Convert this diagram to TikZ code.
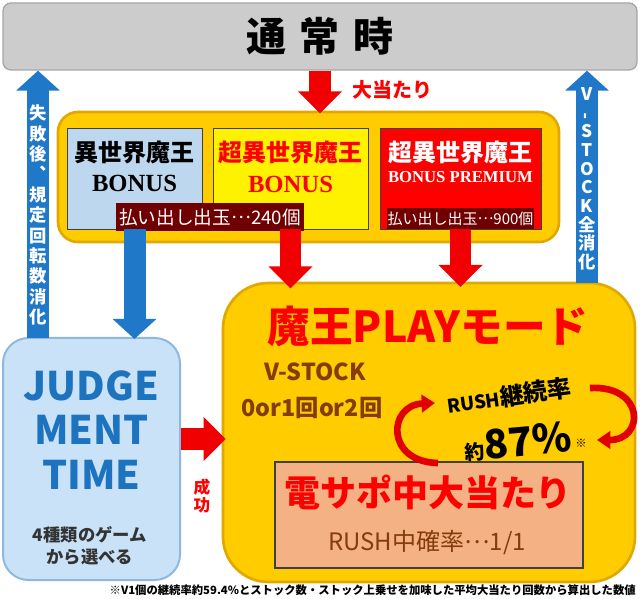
\documentclass[tikz,border=0pt]{standalone}
\usepackage{fontspec, graphicx}
\setmainfont{Liberation Serif}
\newfontfamily\jp{Noto Sans CJK JP}
\usetikzlibrary{arrows.meta,positioning}
\definecolor{barGray}{HTML}{CCCCCC}
\definecolor{barEdge}{HTML}{A6A6A6}
\definecolor{frameGold}{HTML}{FFCC00}
\definecolor{frameEdge}{HTML}{E0A800}
\definecolor{boxEdge}{HTML}{404040}
\definecolor{boxBlue}{HTML}{BDD7EE}
\definecolor{payRed}{HTML}{700000}
\definecolor{titleRed}{HTML}{FF0000}
\definecolor{arrowRed}{HTML}{F00000}
\definecolor{loopRed}{HTML}{E00000}
\definecolor{arrowBlue}{HTML}{1F78C8}
\definecolor{judgeBlue}{HTML}{C9E2F8}
\definecolor{judgeEdge}{HTML}{8FB8DE}
\definecolor{judgeText}{HTML}{1E73BE}
\definecolor{rushSalmon}{HTML}{F4B183}
\definecolor{rushBrown}{HTML}{843C0C}
\newcommand{\midots}{\raisebox{0.3em}{…}}
\newcommand{\tightlines}{\lineskiplimit=-20pt\relax\lineskip=0pt\relax}
\tikzstyle{topbar}     = [draw=barEdge, fill=barGray, line width=1pt, rounded corners=6pt, minimum width=475.5pt, minimum height=50.25pt, font=\jp\bfseries\fontsize{30}{30}\selectfont]
\tikzstyle{bonusframe} = [draw=frameEdge, fill=frameGold, line width=2pt, rounded corners=15pt, minimum width=375.75pt, minimum height=97.5pt]
\tikzstyle{bonusbox}   = [draw=boxEdge, line width=0.6pt, minimum height=75.75pt, inner sep=0pt, outer sep=0pt]
\tikzstyle{bonustitle} = [inner sep=0pt, font=\jp\bfseries\fontsize{18}{18}\selectfont]
\tikzstyle{bonusword}  = [inner sep=0pt, font=\bfseries\fontsize{18.5}{18.5}\selectfont]
\tikzstyle{payout}     = [fill=payRed, text=white, inner sep=0pt]
\tikzstyle{playframe}  = [draw=frameEdge, fill=frameGold, line width=2pt, rounded corners=34pt, minimum width=309pt, minimum height=224.25pt]
\tikzstyle{playtitle}  = [text=titleRed, font=\jp\bfseries\fontsize{32}{32}\selectfont]
\tikzstyle{stocktext}  = [text=rushBrown, font=\jp\bfseries\fontsize{17.5}{17.5}\selectfont]
\tikzstyle{ratetext}   = [inner sep=1pt, font=\jp\bfseries\fontsize{18}{18}\selectfont]
\tikzstyle{rushbox}    = [draw=boxEdge, fill=rushSalmon, line width=1pt, minimum width=231pt, minimum height=79.5pt]
\tikzstyle{rushtitle}  = [text=titleRed, font=\jp\bfseries\fontsize{27}{27}\selectfont]
\tikzstyle{rushtext}   = [text=rushBrown, font=\jp\fontsize{18}{18}\selectfont]
\tikzstyle{judgebox}   = [draw=judgeEdge, fill=judgeBlue, line width=1.5pt, rounded corners=19pt, minimum width=132.75pt, minimum height=181.5pt]
\tikzstyle{judgetext}  = [text=judgeText, align=center, font=\jp\bfseries\fontsize{29.5}{33.4}\selectfont]
\tikzstyle{gametext}   = [text=black!80, align=center, font=\jp\bfseries\fontsize{13}{16.5}\selectfont]
\tikzstyle{downtext}   = [text=white, align=center, inner sep=0pt, font=\jp\bfseries\fontsize{13}{15.3}\selectfont\tightlines]
\tikzstyle{hittext}    = [text=titleRed, font=\jp\bfseries\fontsize{15}{15}\selectfont]
\tikzstyle{oktext}     = [text=titleRed, align=center, font=\jp\bfseries\fontsize{12.5}{13.5}\selectfont]
\tikzstyle{footnote}   = [inner sep=0pt, font=\jp\bfseries\fontsize{8.5}{8.5}\selectfont]
\tikzstyle{redarrow}   = [draw=arrowRed, line width=16pt, -{Triangle[width=32pt,length=16.5pt]}]
\tikzstyle{bluearrow}  = [draw=arrowBlue, line width=16.5pt, -{Triangle[width=32pt,length=15pt]}]
\tikzstyle{turnarrow}  = [draw=loopRed, line width=5pt, -{Triangle[width=13pt,length=10pt]}]

\begin{document}
\begin{tikzpicture}[x=0.75pt, y=-0.75pt]
	\useasboundingbox (0,0) rectangle (640,599);
	% Node Setting %
	\node [topbar] (normal) at (320,36.5) {通\hspace{10pt}常\hspace{10pt}時};
	\node [hittext] (hit) at (392,90) {大当たり};
	\node [bonusframe] (bonus) at (308.5,177) {};
	\node [bonusbox, fill=boxBlue, minimum width=101.25pt] (bonusA) at (134.5,178.5) {};
	\node [bonusbox, fill=yellow, minimum width=116.25pt, right=8.25pt of bonusA] (bonusB) {};
	\node [bonusbox, fill=red, minimum width=120.75pt, right=9pt of bonusB] (bonusC) {};
	\node [bonustitle] (titleA) at (134.5,152) {異世界魔王};
	\node [bonusword] (wordA) at (134.5,183) {BONUS};
	\node [bonustitle, text=titleRed] (titleB) at (290.5,152) {超異世界魔王};
	\node [bonusword, text=titleRed] (wordB) at (290.5,184) {BONUS};
	\node [bonustitle, text=white] (titleC) at (460.5,152) {超異世界魔王};
	\node [bonusword, text=white, font=\bfseries\fontsize{12.5}{12.5}\selectfont] (wordC) at (460.5,177) {BONUS PREMIUM};
	\node [payout, minimum width=141pt, minimum height=21pt, font=\jp\fontsize{14}{14}\selectfont] (payA) at (210,217) {払い出し出玉\midots 240個};
	\node [payout, minimum width=110pt, minimum height=16pt, font=\jp\fontsize{11.25}{11.25}\selectfont] (payC) at (460.5,218.5) {払い出し出玉\midots 900個};
	\node [playframe] (play) at (429,432.5) {};
	\node [playtitle] (playname) at (428,326) {魔王PLAYモード};
	\node [stocktext] (stock) at (315,372) {V-STOCK};
	\node [stocktext] (stocknum) at (312,408) {0or1回or2回};
	\node [ratetext, rotate=8] (ratename) at (509,396) {{\fontsize{14}{14}\selectfont RUSH}継続率};
	\node [ratetext, rotate=5, font=\jp\bfseries\fontsize{30}{30}\selectfont] (rate) at (518,442) {{\fontsize{15}{15}\selectfont 約}87\%};
	\node [footnote] (ratemark) at (581,443) {※};
	\node [rushbox] (rush) at (429,515) {};
	\node [rushtitle] (rushname) at (428,492) {電サポ中大当たり};
	\node [rushtext] (rushrate) at (427,543) {RUSH中確率\midots 1/1};
	\node [judgebox] (judge) at (91.5,459) {};
	\node [judgetext] (judgename) at (91.5,430) {JUDGE\\MENT\\TIME};
	\node [gametext] (games) at (90,546) {4種類のゲーム\\から選べる};
	\node [oktext] (ok) at (202,496) {成\\功};
	\node [footnote, anchor=east] (memo) at (636,590) {※V1個の継続率約59.4\%とストック数・ストック上乗せを加味した平均大当たり回数から算出した数値};
	\coordinate (failfoot) at (38,338);
	\coordinate (stockfoot) at (587,283);
	\coordinate (loopAstart) at (438,463);
	\coordinate (loopAend) at (435,403);
	\coordinate (loopBstart) at (590,388);
	\coordinate (loopBend) at (597,440);
	% Connection %
	\path [redarrow, shorten >=-2pt] (normal.south) -- (normal.south |- bonus.north);
	\path [bluearrow, shorten >=-1.5pt] (bonusA.south) -- (bonusA.south |- judge.north);
	\path [redarrow, shorten >=-5pt] (bonusB.south) -- (bonusB.south |- play.north);
	\path [redarrow, shorten >=-4pt] (bonusC.south) -- (bonusC.south |- play.north);
	\path [redarrow, shorten >=-3pt] ([yshift=15pt]judge.east) -- ([yshift=15pt]judge.east -| play.west);
	\path [bluearrow] (failfoot) -- (failfoot |- normal.south) node [downtext, pos=0.46] (failtext) {失\\敗\\後\\︑\\規\\定\\回\\転\\数\\消\\化};
	\path [bluearrow] (stockfoot) -- (stockfoot |- normal.south) node [downtext, pos=0.49, font=\jp\bfseries\fontsize{13}{14}\selectfont\tightlines] (stocktext) {V\\\rotatebox{90}{-}\\S\\T\\O\\C\\K\\全\\消\\化};
	\path [turnarrow] (loopAstart) .. controls (385,462) and (388,405) .. (loopAend);
	\path [turnarrow] (loopBstart) .. controls (645,385) and (645,440) .. (loopBend);
\end{tikzpicture}
\end{document}
